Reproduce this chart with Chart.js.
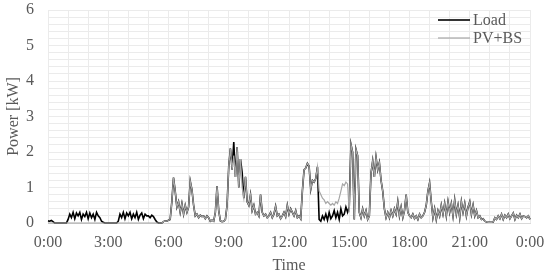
<!DOCTYPE html>
<html>
<head>
<meta charset="utf-8">
<script src="https://cdn.jsdelivr.net/npm/chart.js@4.4.1/dist/chart.umd.min.js"></script>
<style>
html,body{margin:0;padding:0;background:#fff;}
#wrap{width:550px;height:275px;position:relative;}
</style>
</head>
<body>
<div id="wrap"><canvas id="c" width="550" height="275"></canvas></div>
<script>
// Time axis: one value every 5 minutes, 0:00 to 24:00
const stepMinutes = 5;
const xTickLabels = ["0:00","3:00","6:00","9:00","12:00","15:00","18:00","21:00","0:00"];
const seriesNames = ["Load", "PV+BS"];

// Load [kW], 5-minute values
const load = [
  0.06,0.05,0.07,0.04,0,0,0,0,0,0,0,0,
  0.1,0.25,0.15,0.3,0.12,0.28,0.2,0.3,0.1,0.25,0.18,0.3,
  0.12,0.28,0.15,0.25,0.1,0.3,0.2,0.15,0.05,0.02,0,0,
  0,0,0,0,0,0,0.05,0.25,0.15,0.3,0.12,0.28,
  0.2,0.3,0.12,0.25,0.15,0.3,0.1,0.22,0.28,0.12,0.25,0.2,
  0.2,0.15,0.22,0.18,0.1,0.03,0,0,0,0.04,0.06,0.05,
  0.08,0.1,0.6,1.28,0.9,0.45,0.6,0.3,0.55,0.25,0.5,0.3,
  0.45,1.18,0.94,0.5,0.2,0.25,0.15,0.22,0.18,0.2,0.12,0.2,
  0.15,0.05,0.08,0.05,0.3,1.04,0.35,0.06,0.04,0.05,0.1,0.5,
  1.6,2.1,1.5,2.28,1.3,2.14,1.0,1.8,1.43,0.7,1.3,0.6,
  0.5,0.8,0.35,0.5,0.25,0.3,0.2,0.8,0.3,0.2,0.25,0.15,
  0.2,0.3,0.15,0.25,0.47,0.2,0.25,0.12,0.2,0.3,0.18,0.5,
  0.25,0.4,0.3,0.2,0.35,0.15,0.2,0.12,0.9,1.5,1.55,1.68,
  1.6,0.95,1.2,1.15,1.25,1.58,0.1,0.05,0.2,0.1,0.25,0.08,
  0.3,0.12,0.2,0.35,0.15,0.3,0.1,0.4,0.2,0.25,0.45,0.3,
  0.46,2.22,2.0,0.1,2.08,1.9,0.3,0.15,0.4,0.2,0.35,0.1,
  0.2,1.4,1.75,1.3,1.85,1.5,1.7,1.2,0.9,0.4,0.15,0.3,
  0.15,0.35,0.2,0.4,0.25,0.6,0.2,0.45,0.15,0.35,0.8,0.3,
  0.2,0.15,0.25,0.12,0.2,0.1,0.25,0.15,0.2,0.3,0.5,0.9,
  1.13,0.6,0.15,0.4,0.1,0.35,0.2,0.5,0.25,0.55,0.2,0.6,
  0.3,0.55,0.2,0.65,0.25,0.5,0.15,0.6,0.3,0.55,0.2,0.45,
  0.6,0.25,0.5,0.2,0.35,0.15,0.2,0.1,0.12,0.05,0.03,0.02,
  0.02,0.02,0.03,0.15,0.1,0.2,0.12,0.25,0.1,0.22,0.15,0.25,
  0.12,0.2,0.28,0.1,0.22,0.15,0.25,0.12,0.2,0.18,0.15,0.2,
  0.1
];

// PV+BS [kW], 5-minute values
const pvbs = [
  0,0,0,0,0,0,0,0,0,0,0,0,
  0,0,0,0,0,0,0,0,0,0,0,0,
  0,0,0,0,0,0,0,0,0,0,0,0,
  0,0,0,0,0,0,0,0,0,0,0,0,
  0,0,0,0,0,0,0,0,0,0,0,0,
  0,0,0,0,0,0,0,0,0,0.04,0.06,0.05,
  0.08,0.1,0.6,1.28,0.9,0.45,0.6,0.3,0.55,0.25,0.5,0.3,
  0.45,1.18,0.94,0.5,0.2,0.25,0.15,0.22,0.18,0.2,0.12,0.2,
  0.15,0.05,0.08,0.05,0.3,1.04,0.35,0.06,0.04,0.05,0.1,0.5,
  1.6,2.1,1.5,1.9,1.3,2.14,1.0,1.8,1.0,0.7,1.3,0.6,
  0.5,0.8,0.35,0.5,0.25,0.3,0.2,0.8,0.3,0.2,0.25,0.15,
  0.2,0.3,0.15,0.25,0.47,0.2,0.25,0.12,0.2,0.3,0.18,0.5,
  0.25,0.4,0.3,0.2,0.35,0.15,0.2,0.12,0.9,1.5,1.55,1.68,
  1.6,0.95,1.2,1.15,1.25,1.58,0.9,0.8,0.7,0.65,0.55,0.6,
  0.55,0.5,0.55,0.5,0.6,0.55,0.7,0.9,1.1,1.05,1.15,1.1,
  0.3,2.22,2.0,0.1,2.08,1.9,0.3,0.15,0.4,0.2,0.35,0.1,
  0.2,1.4,1.75,1.3,1.85,1.5,1.7,1.2,0.9,0.4,0.15,0.3,
  0.15,0.35,0.2,0.4,0.25,0.6,0.2,0.45,0.15,0.35,0.8,0.3,
  0.2,0.15,0.25,0.12,0.2,0.1,0.25,0.15,0.2,0.3,0.5,0.9,
  1.13,0.6,0.15,0.4,0.1,0.35,0.2,0.5,0.25,0.55,0.2,0.6,
  0.3,0.55,0.2,0.65,0.25,0.5,0.15,0.6,0.3,0.55,0.2,0.45,
  0.6,0.25,0.5,0.2,0.35,0.15,0.2,0.1,0.12,0.05,0.03,0.02,
  0.02,0.02,0.03,0.15,0.1,0.2,0.12,0.25,0.1,0.22,0.15,0.25,
  0.12,0.2,0.28,0.1,0.22,0.15,0.25,0.12,0.2,0.18,0.15,0.2,
  0.1
];

const minutes = load.map((_, i) => i * stepMinutes);

const FONT = "'Liberation Serif', 'Times New Roman', serif";
const TXT = '#595959';
const GRID = '#ebebeb';

const legendPlugin = {
  id: 'insideLegend',
  afterDatasetsDraw(chart) {
    const ctx = chart.ctx;
    const ds = chart.data.datasets;
    const x0 = 438, x1 = 470, tx = 473;
    const ys = [20, 38];
    ctx.save();
    ctx.font = '16px ' + FONT;
    ctx.textBaseline = 'middle';
    ctx.textAlign = 'left';
    ds.forEach((d, i) => {
      ctx.strokeStyle = d.borderColor;
      ctx.lineWidth = d.borderWidth;
      ctx.beginPath();
      ctx.moveTo(x0, ys[i]);
      ctx.lineTo(x1, ys[i]);
      ctx.stroke();
      ctx.fillStyle = TXT;
      ctx.fillText(d.label, tx, ys[i] + 1);
    });
    ctx.restore();
  }
};

new Chart(document.getElementById('c'), {
  type: 'line',
  data: {
    labels: minutes,
    datasets: [
      { label: seriesNames[0], data: load, borderColor: '#000000', borderWidth: 1.6,
        pointRadius: 0, tension: 0, order: 2, clip: false },
      { label: seriesNames[1], data: pvbs, borderColor: '#a6a6a6', borderWidth: 1.2,
        pointRadius: 0, tension: 0, order: 1, clip: false }
    ]
  },
  options: {
    responsive: false,
    animation: false,
    events: [],
    layout: { padding: { top: 0, right: 20, left: 0, bottom: 0 } },
    plugins: { legend: { display: false }, tooltip: { enabled: false } },
    scales: {
      x: {
        type: 'linear', min: 0, max: 1440,
        afterFit: s => { s.height = 52; s.paddingLeft = 0; s.paddingRight = 0; },
        grid: { color: GRID, lineWidth: 1, drawTicks: false },
        border: { color: '#d9d9d9' },
        ticks: {
          stepSize: 60, autoSkip: false, maxRotation: 0, padding: 10,
          color: TXT, font: { family: FONT, size: 16 },
          callback: v => (v % 180 === 0 ? xTickLabels[v / 180] : '')
        },
        title: { display: true, text: 'Time', color: TXT,
                 font: { family: FONT, size: 16 }, padding: { top: 0, bottom: 0 } }
      },
      y: {
        min: 0, max: 6,
        afterFit: s => { s.width = 48; s.paddingTop = 10; s.paddingBottom = 0; },
        grid: { color: GRID, lineWidth: 1, drawTicks: false },
        border: { display: false },
        ticks: {
          stepSize: 0.2, autoSkip: false, padding: 14,
          color: TXT, font: { family: FONT, size: 16 },
          callback: v => (Math.abs(v - Math.round(v)) < 1e-6 ? String(Math.round(v)) : '')
        },
        title: { display: true, text: 'Power [kW]', color: TXT,
                 font: { family: FONT, size: 16 }, padding: { top: 4, bottom: 0 } }
      }
    }
  },
  plugins: [legendPlugin]
});
</script>
</body>
</html>
